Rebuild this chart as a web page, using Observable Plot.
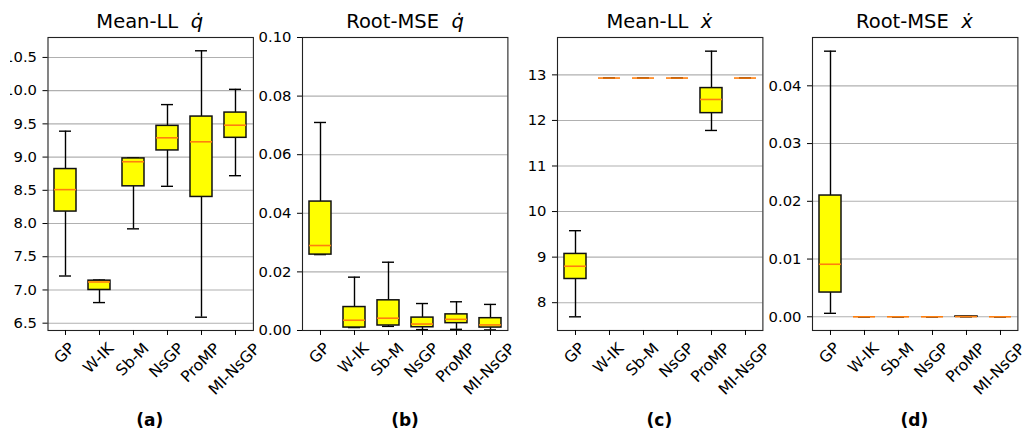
<!DOCTYPE html>
<html><head><meta charset="utf-8">
<script src="https://cdn.jsdelivr.net/npm/d3@7"></script>
<script src="https://cdn.jsdelivr.net/npm/@observablehq/plot@0.6"></script>
<style>
body{margin:0;background:#fff;font-family:"DejaVu Sans";}
#wrap{position:relative;width:1031px;height:434px;overflow:hidden;background:#fff;}
#wrap svg{position:absolute;top:0;}
</style></head><body><div id="wrap"></div>
<script>
const categories = ["GP","W-IK","Sb-M","NsGP","ProMP","MI-NsGP"];

// Panel (a) Mean-LL q-dot
const aLo  = [7.21, 6.81, 7.92, 8.56, 6.59, 8.72];
const aQ1  = [8.18, 7.00, 8.56, 9.10, 8.40, 9.29];
const aMed = [8.51, 7.12, 8.93, 9.29, 9.23, 9.48];
const aQ3  = [8.82, 7.14, 8.98, 9.47, 9.61, 9.67];
const aHi  = [9.39, 7.15, 8.99, 9.79, 10.60, 10.02];
const aTicks = [6.5, 7.0, 7.5, 8.0, 8.5, 9.0, 9.5, 10.0, 10.5];

// Panel (b) Root-MSE q-dot
const bLo  = [0.0259, 0.0010, 0.0014, 0.0003, 0.0004, 0.0002];
const bQ1  = [0.0259, 0.0010, 0.0017, 0.0011, 0.0025, 0.0010];
const bMed = [0.0290, 0.0035, 0.0042, 0.0022, 0.0038, 0.0019];
const bQ3  = [0.0440, 0.0080, 0.0103, 0.0044, 0.0055, 0.0042];
const bHi  = [0.0710, 0.0182, 0.0233, 0.0092, 0.0098, 0.0089];
const bTicks = [0.00, 0.02, 0.04, 0.06, 0.08, 0.10];

// Panel (c) Mean-LL x-dot
const cLo  = [7.69, 12.93, 12.93, 12.93, 11.78, 12.93];
const cQ1  = [8.52, 12.93, 12.93, 12.93, 12.16, 12.93];
const cMed = [8.80, 12.93, 12.93, 12.93, 12.46, 12.93];
const cQ3  = [9.07, 12.93, 12.93, 12.93, 12.71, 12.93];
const cHi  = [9.58, 12.93, 12.93, 12.93, 13.52, 12.93];
const cTicks = [8, 9, 10, 11, 12, 13];

// Panel (d) Root-MSE x-dot
const dLo  = [0.0006, 0, 0, 0, 0, 0];
const dQ1  = [0.0042, 0, 0, 0, 0, 0];
const dMed = [0.0091, 0, 0, 0, 0.00003, 0];
const dQ3  = [0.0210, 0, 0, 0, 0.00006, 0];
const dHi  = [0.0460, 0, 0, 0, 0.00006, 0];
const dTicks = [0.00, 0.01, 0.02, 0.03, 0.04];

const titles = [["Mean-LL", "q\u0307"], ["Root-MSE", "q\u0307"], ["Mean-LL", "\u1e8b"], ["Root-MSE", "\u1e8b"]];
const panelLabels = ["(a)", "(b)", "(c)", "(d)"];

const FW = 205.4;
const XFS = 15.6;
const ctx = document.createElement("canvas").getContext("2d");
ctx.font = XFS + "px 'DejaVu Sans'";
const measure = s => ctx.measureText(s).width;

function panel(cfg) {
  const rows = categories.map((c, i) => ({cat: c, lo: cfg.lo[i], q1: cfg.q1[i], med: cfg.med[i], q3: cfg.q3[i], hi: cfg.hi[i]}));
  const labelMarks = categories.map(c => Plot.text([c], {
    x: d => d, frameAnchor: "bottom", rotate: -45, dx: -1, dy: 10 + (measure(c) + 12) * 0.375,
    fontSize: XFS, fill: "black", textAnchor: "middle", lineAnchor: "middle"
  }));
  const svg = Plot.plot({
    width: cfg.ml + FW + cfg.mr, height: 434,
    marginTop: 37, marginBottom: 104, marginLeft: cfg.ml, marginRight: cfg.mr,
    style: {fontFamily: "DejaVu Sans", fontSize: "14.8px", background: "transparent", color: "black"},
    x: {type: "band", domain: categories, paddingInner: 0.357, paddingOuter: 0.178, label: null},
    y: {domain: cfg.domain, label: null},
    marks: [
      Plot.gridY(cfg.ticks, {stroke: "#b0b0b0", strokeOpacity: 1, strokeWidth: 1.1}),
      Plot.ruleX(rows, {x: "cat", y1: "lo", y2: "q1", stroke: "black", strokeWidth: 1.4}),
      Plot.ruleX(rows, {x: "cat", y1: "q3", y2: "hi", stroke: "black", strokeWidth: 1.4}),
      Plot.tickY(rows, {x: "cat", y: "lo", inset: 5, stroke: "black", strokeWidth: 1.4}),
      Plot.tickY(rows, {x: "cat", y: "hi", inset: 5, stroke: "black", strokeWidth: 1.4}),
      Plot.barY(rows, {x: "cat", y1: "q1", y2: "q3", fill: "#ffff00", stroke: "#111", strokeWidth: 1.5}),
      Plot.tickY(rows, {x: "cat", y: "med", stroke: "#ff7f0e", strokeWidth: 1.6}),
      Plot.frame({stroke: "#222", strokeWidth: 1.1}),
      Plot.axisY({ticks: cfg.ticks, tickFormat: cfg.fmt, tickSize: 5, tickPadding: 6, fontSize: 14.8, label: null, stroke: "black"}),
      Plot.axisX({tickSize: 5, tickFormat: () => "", label: null, stroke: "black"}),
      ...labelMarks
    ]
  });
  svg.style.left = cfg.left + "px";
  return svg;
}

const wrap = document.getElementById("wrap");
const cfgs = [
  {lo: aLo, q1: aQ1, med: aMed, q3: aQ3, hi: aHi, ticks: aTicks, domain: [6.39, 10.80], fmt: d3.format(".1f"), left: 9.5, ml: 37.5, mr: 20},
  {lo: bLo, q1: bQ1, med: bMed, q3: bQ3, hi: bHi, ticks: bTicks, domain: [0, 0.10], fmt: d3.format(".2f"), left: 252.3, ml: 50, mr: 20},
  {lo: cLo, q1: cQ1, med: cMed, q3: cQ3, hi: cHi, ticks: cTicks, domain: [7.39, 13.82], fmt: d3.format("d"), left: 506.7, ml: 50, mr: 20},
  {lo: dLo, q1: dQ1, med: dMed, q3: dQ3, hi: dHi, ticks: dTicks, domain: [-0.00237, 0.04837], fmt: d3.format(".2f"), left: 761.7, ml: 50, mr: 13.3}
];
cfgs.forEach(c => wrap.appendChild(panel(c)));

// Titles and panel labels overlay
const overlay = d3.select(wrap).append("svg")
  .attr("width", 1031).attr("height", 434)
  .style("left", "0px").style("pointer-events", "none")
  .attr("font-family", "DejaVu Sans");
cfgs.forEach((c, i) => {
  const cx = c.left + c.ml + FW / 2;
  const t = overlay.append("text").attr("x", cx).attr("y", 28.3)
    .attr("text-anchor", "middle").attr("font-size", 19.5).attr("fill", "black")
    .style("white-space", "pre");
  t.append("tspan").text(titles[i][0] + "\u00a0\u00a0");
  t.append("tspan").attr("font-style", "italic").text(titles[i][1]);
  overlay.append("text").attr("x", cx).attr("y", 426)
    .attr("text-anchor", "middle").attr("font-size", 17).attr("font-weight", "bold")
    .attr("fill", "black").text(panelLabels[i]);
});
</script>
</body></html>
